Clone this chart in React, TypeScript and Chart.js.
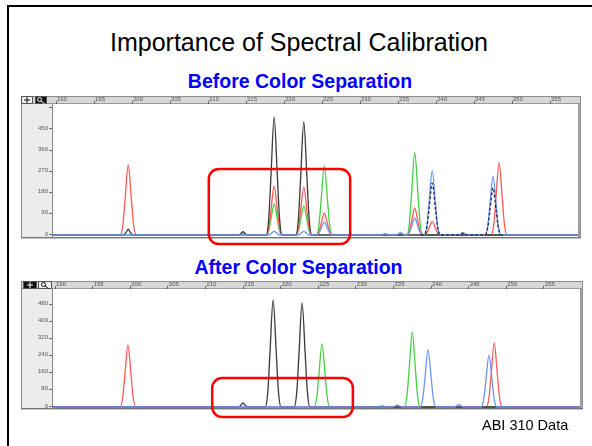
import React, { useEffect, useRef } from 'react';
import { Chart, registerables } from 'chart.js';

Chart.register(...registerables);

const FONT = "'Liberation Sans', Arial, Helvetica, sans-serif";

// ---- axis ticks ----
const xTicks = [190, 195, 200, 205, 210, 215, 220, 225, 230, 235, 240, 245, 250, 255];
const beforeYTicks = [0, 90, 180, 270, 360, 450, 540];
const afterYTicks = [0, 80, 160, 240, 320, 400, 480];

type P = [number, number];

// ---- BEFORE colour separation: [size (bp), RFU] ----
const beforeBlack: P[] = [
  [189.4, 0],
  [198.9, 0], [199.25, 12], [199.5, 25], [199.75, 12], [200.1, 0],
  [214.0, 0], [214.35, 7], [214.6, 14], [214.85, 7], [215.2, 0],
  [217.65, 0], [218.0, 75], [218.28, 250], [218.7, 501], [219.12, 250], [219.4, 75], [219.75, 0],
  [221.55, 0], [221.9, 72], [222.18, 240], [222.6, 481], [223.02, 240], [223.3, 72], [223.65, 0],
  [259.9, 0],
];
const beforeBlackDashed: P[] = [
  [238.0, 0],
  [238.45, 0], [238.8, 33], [239.08, 110], [239.5, 220], [239.92, 110], [240.2, 33], [240.55, 0],
  [243.0, 0], [243.3, 4], [243.55, 8], [243.8, 4], [244.1, 0],
  [246.45, 0], [246.8, 30], [247.08, 100], [247.5, 200], [247.92, 100], [248.2, 30], [248.55, 0],
  [249.0, 0],
];
const beforeRed: P[] = [
  [189.4, 0],
  [198.45, 0], [198.8, 45], [199.08, 149], [199.5, 297], [199.92, 149], [200.2, 45], [200.55, 0],
  [214.0, 0], [214.35, 5], [214.6, 10], [214.85, 5], [215.2, 0],
  [217.65, 0], [218.0, 31], [218.28, 104], [218.7, 208], [219.12, 104], [219.4, 31], [219.75, 0],
  [221.55, 0], [221.9, 31], [222.18, 102], [222.6, 204], [223.02, 102], [223.3, 31], [223.65, 0],
  [224.25, 0], [224.6, 14], [224.88, 47], [225.3, 93], [225.72, 47], [226.0, 14], [226.35, 0],
  [234.8, 0], [235.15, 4], [235.4, 8], [235.65, 4], [236.0, 0],
  [236.15, 0], [236.5, 17], [236.78, 58], [237.2, 115], [237.62, 58], [237.9, 17], [238.25, 0],
  [238.45, 0], [238.8, 9], [239.08, 29], [239.5, 57], [239.92, 29], [240.2, 9], [240.55, 0],
  [247.25, 0], [247.6, 46], [247.88, 154], [248.3, 307], [248.72, 154], [249.0, 46], [249.35, 0],
  [259.9, 0],
];
const beforeGreen: P[] = [
  [189.4, 0],
  [217.65, 0], [218.0, 20], [218.28, 66], [218.7, 132], [219.12, 66], [219.4, 20], [219.75, 0],
  [221.55, 0], [221.9, 18], [222.18, 62], [222.6, 123], [223.02, 62], [223.3, 18], [223.65, 0],
  [224.25, 0], [224.6, 44], [224.88, 147], [225.3, 293], [225.72, 147], [226.0, 44], [226.35, 0],
  [232.7, 0], [233.05, 3], [233.3, 6], [233.55, 3], [233.9, 0],
  [236.15, 0], [236.5, 52], [236.78, 175], [237.2, 349], [237.62, 175], [237.9, 52], [238.25, 0],
  [259.9, 0],
];
const beforeBlue: P[] = [
  [189.4, 0],
  [218.0, 0], [218.35, 8], [218.7, 15], [219.05, 8], [219.4, 0],
  [221.9, 0], [222.25, 8], [222.6, 15], [222.95, 8], [223.3, 0],
  [224.25, 0], [224.6, 8], [224.88, 28], [225.3, 55], [225.72, 28], [226.0, 8], [226.35, 0],
  [232.7, 0], [233.05, 3], [233.3, 5], [233.55, 3], [233.9, 0],
  [234.7, 0], [235.05, 5], [235.3, 10], [235.55, 5], [235.9, 0],
  [236.15, 0], [236.5, 11], [236.78, 36], [237.2, 72], [237.62, 36], [237.9, 11], [238.25, 0],
  [238.45, 0], [238.8, 41], [239.08, 137], [239.5, 273], [239.92, 137], [240.2, 41], [240.55, 0],
  [243.0, 0], [243.3, 5], [243.55, 10], [243.8, 5], [244.1, 0],
  [246.45, 0], [246.8, 38], [247.08, 125], [247.5, 250], [247.92, 125], [248.2, 38], [248.55, 0],
  [259.9, 0],
];

// ---- AFTER colour separation ----
const afterBlack: P[] = [
  [189.4, 0],
  [214.4, 0], [214.75, 10], [215.0, 19], [215.25, 10], [215.6, 0],
  [217.95, 0], [218.3, 75], [218.58, 250], [219.0, 499], [219.42, 250], [219.7, 75], [220.05, 0],
  [221.8, 0], [222.15, 73], [222.43, 243], [222.85, 485], [223.27, 243], [223.55, 73], [223.9, 0],
  [259.9, 0],
];
const afterRed: P[] = [
  [189.4, 0],
  [198.65, 0], [199.0, 43], [199.28, 145], [199.7, 289], [200.12, 145], [200.4, 43], [200.75, 0],
  [247.35, 0], [247.7, 45], [247.98, 149], [248.4, 298], [248.82, 149], [249.1, 45], [249.45, 0],
  [259.9, 0],
];
const afterGreen: P[] = [
  [189.4, 0],
  [224.45, 0], [224.8, 44], [225.08, 147], [225.5, 294], [225.92, 147], [226.2, 44], [226.55, 0],
  [232.9, 0], [233.25, 3], [233.5, 6], [233.75, 3], [234.1, 0],
  [236.45, 0], [236.8, 53], [237.08, 175], [237.5, 350], [237.92, 175], [238.2, 53], [238.55, 0],
  [259.9, 0],
];
const afterBlue: P[] = [
  [189.4, 0],
  [234.9, 0], [235.25, 5], [235.5, 10], [235.75, 5], [236.1, 0],
  [238.55, 0], [238.9, 40], [239.18, 133], [239.6, 266], [240.02, 133], [240.3, 40], [240.65, 0],
  [243.1, 0], [243.4, 6], [243.7, 12], [244.0, 6], [244.3, 0],
  [246.65, 0], [247.0, 36], [247.28, 121], [247.7, 242], [248.12, 121], [248.4, 36], [248.75, 0],
  [259.9, 0],
];

// highlighted regions: [size from, size to, RFU from, RFU to]
const beforeBox = [210.1, 228.7, -38, 280];
const afterBox = [210.9, 229.6, -47, 135];

const COLORS = {
  black: '#3a3a3a',
  dashed: '#1f2b4d',
  red: '#ff5858',
  green: '#45d045',
  blue: '#6a96f0',
};

type Btn = { x: number; y: number; w: number; h: number; dark: boolean; icon: 'plus' | 'zoom' };
type PanelCfg = { left: number; top: number; right: number; buttons: Btn[]; box: number[] };

function makePanelPlugin(cfg: PanelCfg) {
  return {
    id: 'panelFrame',
    beforeDraw(chart: any) {
      const { ctx, chartArea: a } = chart;
      const L = cfg.left, T = cfg.top, R = cfg.right, B = a.bottom + 1;
      ctx.save();
      ctx.fillStyle = '#ececec';
      ctx.fillRect(L, T, R - L, B - T);
      ctx.fillStyle = '#d7d7d7';
      ctx.fillRect(L, T, R - L, a.top - T);
      ctx.fillStyle = '#ffffff';
      ctx.fillRect(a.left, a.top, a.right - a.left, a.bottom - a.top);
      ctx.lineWidth = 1;
      ctx.strokeStyle = '#8c8c8c';
      ctx.strokeRect(L + 0.5, T + 0.5, R - L - 1, B - T - 0.5);
      ctx.strokeStyle = '#9a9a9a';
      ctx.beginPath();
      ctx.moveTo(L, a.top - 0.5);
      ctx.lineTo(R, a.top - 0.5);
      ctx.moveTo(a.right + 0.5, a.top);
      ctx.lineTo(a.right + 0.5, B);
      ctx.stroke();
      ctx.fillStyle = '#a8a8a8';
      ctx.fillRect(a.right + 1, a.top, R - a.right - 2, B - a.top);
      ctx.strokeStyle = '#777';
      ctx.beginPath();
      ctx.moveTo(L, B - 0.5);
      ctx.lineTo(R, B - 0.5);
      ctx.stroke();
      for (const b of cfg.buttons) {
        ctx.fillStyle = b.dark ? '#111' : '#efefef';
        ctx.fillRect(b.x, b.y, b.w, b.h);
        ctx.strokeStyle = '#555';
        ctx.strokeRect(b.x + 0.5, b.y + 0.5, b.w - 1, b.h - 1);
        ctx.strokeStyle = b.dark ? '#fff' : '#111';
        ctx.lineWidth = 1;
        const cx = b.x + b.w / 2, cy = b.y + b.h / 2;
        ctx.beginPath();
        if (b.icon === 'plus') {
          ctx.moveTo(cx - 3, cy); ctx.lineTo(cx + 3, cy);
          ctx.moveTo(cx, cy - 3); ctx.lineTo(cx, cy + 3);
          ctx.stroke();
        } else {
          ctx.arc(cx - 1.5, cy - 0.5, 2, 0, Math.PI * 2);
          ctx.moveTo(cx, cy + 1); ctx.lineTo(cx + 3.5, cy + 3.5);
          ctx.stroke();
        }
      }
      ctx.restore();
    },
    afterDraw(chart: any) {
      const { ctx, scales } = chart;
      const xs = scales.x, ys = scales.y;
      const [x0, x1, y0, y1] = cfg.box;
      const px0 = xs.getPixelForValue(x0), px1 = xs.getPixelForValue(x1);
      const py0 = ys.getPixelForValue(y0), py1 = ys.getPixelForValue(y1);
      ctx.save();
      ctx.strokeStyle = '#ff0000';
      ctx.lineWidth = 2.5;
      ctx.beginPath();
      ctx.roundRect(px0, py1, px1 - px0, py0 - py1, 10);
      ctx.stroke();
      ctx.restore();
    },
  };
}

function ds(data: P[], color: string, dash?: number[]) {
  return {
    data: data.map(([x, y]) => ({ x, y })),
    borderColor: color,
    borderWidth: 1.3,
    borderDash: dash || [],
    pointRadius: 0,
    fill: false,
    cubicInterpolationMode: 'monotone' as const,
  };
}

function makeConfig(opts: {
  datasets: any[];
  xMin: number; xMax: number; yMin: number; yMax: number;
  yTicks: number[]; hiddenTick?: number;
  padding: { left: number; top: number; right: number; bottom: number };
  panel: PanelCfg;
}) {
  return {
    type: 'line' as const,
    data: { datasets: opts.datasets },
    plugins: [makePanelPlugin(opts.panel)],
    options: {
      responsive: false,
      animation: false as const,
      events: [],
      layout: { padding: opts.padding },
      plugins: { legend: { display: false }, tooltip: { enabled: false }, title: { display: false } },
      scales: {
        x: {
          type: 'linear' as const,
          position: 'top' as const,
          min: opts.xMin,
          max: opts.xMax,
          afterBuildTicks: (s: any) => { s.ticks = xTicks.map((v) => ({ value: v })); },
          afterFit: (s: any) => { s.height = 8; },
          ticks: {
            align: 'start' as const,
            maxRotation: 0,
            autoSkip: false,
            padding: -2,
            labelOffset: 1,
            color: '#555',
            font: { family: FONT, size: 6 },
          },
          grid: { drawOnChartArea: false, tickLength: 3, color: '#666' },
          border: { display: false },
        },
        y: {
          type: 'linear' as const,
          min: opts.yMin,
          max: opts.yMax,
          afterBuildTicks: (s: any) => { s.ticks = opts.yTicks.map((v) => ({ value: v })); },
          afterFit: (s: any) => { s.width = 31; },
          ticks: {
            padding: 1,
            labelOffset: -1,
            color: '#555',
            font: { family: FONT, size: 6 },
            callback: (v: any) => (v === opts.hiddenTick ? '' : String(v)),
          },
          grid: { drawOnChartArea: false, tickLength: 3, color: '#666' },
          border: { display: true, color: '#888' },
        },
      },
    },
  };
}

export default function App() {
  const c1 = useRef<HTMLCanvasElement>(null);
  const c2 = useRef<HTMLCanvasElement>(null);

  useEffect(() => {
    const ch1 = new Chart(c1.current as HTMLCanvasElement, makeConfig({
      datasets: [
        ds(beforeBlackDashed, COLORS.dashed, [3, 2]),
        ds(beforeBlue, COLORS.blue),
        ds(beforeBlack, COLORS.black),
        ds(beforeRed, COLORS.red),
        ds(beforeGreen, COLORS.green),
      ],
      xMin: 189.47, xMax: 258.68, yMin: -8.5, yMax: 556,
      yTicks: beforeYTicks, hiddenTick: 540,
      padding: { left: 1, top: 2, right: 8, bottom: 11 },
      panel: {
        left: 1, top: 2, right: 561,
        buttons: [
          { x: 1, y: 2, w: 12, h: 8, dark: false, icon: 'plus' },
          { x: 15, y: 2, w: 12, h: 8, dark: true, icon: 'zoom' },
        ],
        box: beforeBox,
      },
    }) as any);
    const ch2 = new Chart(c2.current as HTMLCanvasElement, makeConfig({
      datasets: [
        ds(afterBlue, COLORS.blue),
        ds(afterBlack, COLORS.black),
        ds(afterRed, COLORS.red),
        ds(afterGreen, COLORS.green),
      ],
      xMin: 189.6, xMax: 259.8, yMin: -4.7, yMax: 550,
      yTicks: afterYTicks,
      padding: { left: 1, top: 2, right: 6, bottom: 13 },
      panel: {
        left: 1, top: 2, right: 563,
        buttons: [
          { x: 3, y: 2, w: 14, h: 8, dark: true, icon: 'plus' },
          { x: 18, y: 2, w: 14, h: 8, dark: false, icon: 'zoom' },
        ],
        box: afterBox,
      },
    }) as any);
    return () => { ch1.destroy(); ch2.destroy(); };
  }, []);

  return (
    <div style={{ position: 'absolute', left: 0, top: 0, width: 592, height: 446, background: '#fff', overflow: 'hidden', fontFamily: FONT }}>
      <div style={{ position: 'absolute', left: 7, top: 5, width: 700, height: 600, borderLeft: '2px solid #000', borderTop: '2px solid #000' }} />
      <div style={{ position: 'absolute', left: 0, top: 29, width: 598, textAlign: 'center', fontSize: 25, lineHeight: '26px', color: '#000', whiteSpace: 'nowrap' }}>
        Importance of Spectral Calibration
      </div>
      <div style={{ position: 'absolute', left: 0, top: 71, width: 600, textAlign: 'center', fontSize: 19.5, lineHeight: '20px', fontWeight: 'bold', color: '#0000ff', whiteSpace: 'nowrap' }}>
        Before Color Separation
      </div>
      <canvas ref={c1} width={566} height={154} style={{ position: 'absolute', left: 20, top: 94 }} />
      <div style={{ position: 'absolute', left: 0, top: 257, width: 597, textAlign: 'center', fontSize: 19.5, lineHeight: '20px', fontWeight: 'bold', color: '#0000ff', whiteSpace: 'nowrap' }}>
        After Color Separation
      </div>
      <canvas ref={c2} width={566} height={142} style={{ position: 'absolute', left: 20, top: 279 }} />
      <div style={{ position: 'absolute', left: 482, top: 418, fontSize: 14.5, lineHeight: '15px', color: '#000', whiteSpace: 'nowrap' }}>
        ABI 310 Data
      </div>
    </div>
  );
}
